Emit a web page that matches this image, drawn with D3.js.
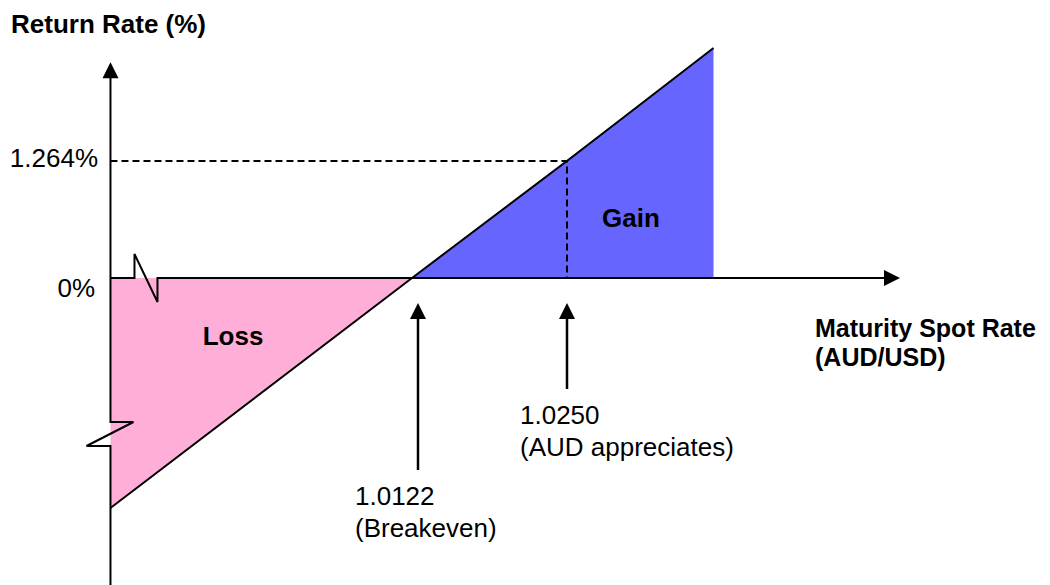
<!DOCTYPE html>
<html>
<head>
<meta charset="utf-8">
<script src="https://cdn.jsdelivr.net/npm/d3@7"></script>
<style>
body { margin: 0; background: #fff; }
text { font-family: "Liberation Sans", Arial, sans-serif; }
</style>
</head>
<body>
<div class="chart"></div>
<script>
let w = 1050;
let h = 585;

// payoff line: maturity spot rate vs return rate (%)
const spotRates = [0.9873, 1.0122, 1.0250, 1.0371];
const returnRates = [-2.485, 0, 1.264, 2.485];

const breakeven = 1.0122;
const appreciated = 1.0250;
const appreciatedReturn = 1.264;

const yTickValues = [1.264, 0];
const yTickLabels = ["1.264%", "0%"];

const markerRates = [1.0122, 1.0250];
const markerLabels = [["1.0122", "(Breakeven)"], ["1.0250", "(AUD appreciates)"]];

const xScale = d3.scaleLinear().domain([breakeven, appreciated]).range([412, 567]);
const yScale = d3.scaleLinear().domain([0, appreciatedReturn]).range([278, 161]);

const pts = spotRates.map(function(d, i){ return {x: d, y: returnRates[i]}; });
const first = pts[0], last = pts[pts.length - 1];

let svg = d3.select('.chart')
	.append('svg')
	.attr('width', w)
	.attr('height', h);

const poly = d3.line().x(function(d){ return xScale(d[0]); }).y(function(d){ return yScale(d[1]); });

// loss area (below zero)
svg.append('path')
	.attr('d', poly([[first.x, 0], [breakeven, 0], [first.x, first.y]]) + 'Z')
	.attr('fill', '#ffafd7');

// gain area
svg.append('path')
	.attr('d', poly([[breakeven, 0], [last.x, last.y], [last.x, 0]]) + 'Z')
	.attr('fill', '#6666ff');

// dashed guides to 1.264%
svg.append('path')
	.attr('d', poly([[first.x, appreciatedReturn], [appreciated, appreciatedReturn], [appreciated, 0]]))
	.attr('fill', 'none')
	.attr('stroke', '#000')
	.attr('stroke-width', 2)
	.attr('stroke-dasharray', '7,4');

// payoff line
svg.append('path')
	.attr('d', poly(pts.map(function(d){ return [d.x, d.y]; })))
	.attr('fill', 'none')
	.attr('stroke', '#000')
	.attr('stroke-width', 2);

const x0 = xScale(first.x), y0 = yScale(0);

function arrowHead(x, y, dir){ // dir: 'up' or 'right'
	let p = dir === 'up'
		? [[x, y], [x - 8, y + 16], [x + 8, y + 16]]
		: [[x, y], [x - 16, y - 8], [x - 16, y + 8]];
	svg.append('path')
		.attr('d', 'M' + p.join('L') + 'Z')
		.attr('fill', '#000');
}

// x axis with break
let xEnd = xScale(1.0525);
svg.append('path')
	.attr('d', 'M' + [[x0, y0], [x0 + 24, y0], [x0 + 24, y0 - 24], [x0 + 47, y0 + 24], [x0 + 47, y0], [xEnd - 10, y0]].join('L'))
	.attr('fill', 'none')
	.attr('stroke', '#000')
	.attr('stroke-width', 2);
arrowHead(xEnd, y0, 'right');

// y axis with break
let yTop = yScale(2.33);
svg.append('path')
	.attr('d', 'M' + [[x0, yTop + 10], [x0, y0 + 144], [x0 + 23, y0 + 144], [x0 - 24, y0 + 168], [x0, y0 + 168], [x0, h + 5]].join('L'))
	.attr('fill', 'none')
	.attr('stroke', '#000')
	.attr('stroke-width', 2);
arrowHead(x0, yTop, 'up');

// y tick labels
svg.selectAll('.ylab')
	.data(yTickValues)
	.enter()
	.append('text')
	.attr('class', 'ylab')
	.text(function(d, i){ return yTickLabels[i]; })
	.attr('x', function(d, i){ return i === 0 ? 98 : 95; })
	.attr('y', function(d, i){ return yScale(d) + (i === 0 ? 6 : 19); })
	.attr('text-anchor', 'end')
	.attr('font-size', '26px');

// markers under the axis
const arrowBottoms = [470, 389];
const labelDx = [-63, -47];
markerRates.forEach(function(r, i){
	let x = xScale(r) + (i === 0 ? 6 : 0);
	svg.append('line')
		.attr('x1', x).attr('x2', x)
		.attr('y1', y0 + 35).attr('y2', arrowBottoms[i])
		.attr('stroke', '#000')
		.attr('stroke-width', 2.5);
	arrowHead(x, y0 + 25, 'up');
	let t = svg.append('text')
		.attr('x', x + labelDx[i])
		.attr('y', arrowBottoms[i] + 35)
		.attr('font-size', '26px');
	markerLabels[i].forEach(function(s, j){
		t.append('tspan')
			.attr('x', x + labelDx[i])
			.attr('dy', j === 0 ? 0 : 32)
			.text(s);
	});
});

// area labels
svg.append('text')
	.text('Gain')
	.attr('x', 631).attr('y', 227)
	.attr('text-anchor', 'middle')
	.attr('font-size', '26px')
	.attr('font-weight', 'bold');

svg.append('text')
	.text('Loss')
	.attr('x', 233).attr('y', 345)
	.attr('text-anchor', 'middle')
	.attr('font-size', '26px')
	.attr('font-weight', 'bold');

// axis titles
svg.append('text')
	.text('Return Rate (%)')
	.attr('x', 11).attr('y', 33)
	.attr('font-size', '26px')
	.attr('font-weight', 'bold');

let xt = svg.append('text')
	.attr('x', 815).attr('y', 337)
	.attr('font-size', '25px')
	.attr('font-weight', 'bold');
xt.append('tspan').attr('x', 815).text('Maturity Spot Rate');
xt.append('tspan').attr('x', 815).attr('dy', 29).text('(AUD/USD)');
</script>
</body>
</html>
